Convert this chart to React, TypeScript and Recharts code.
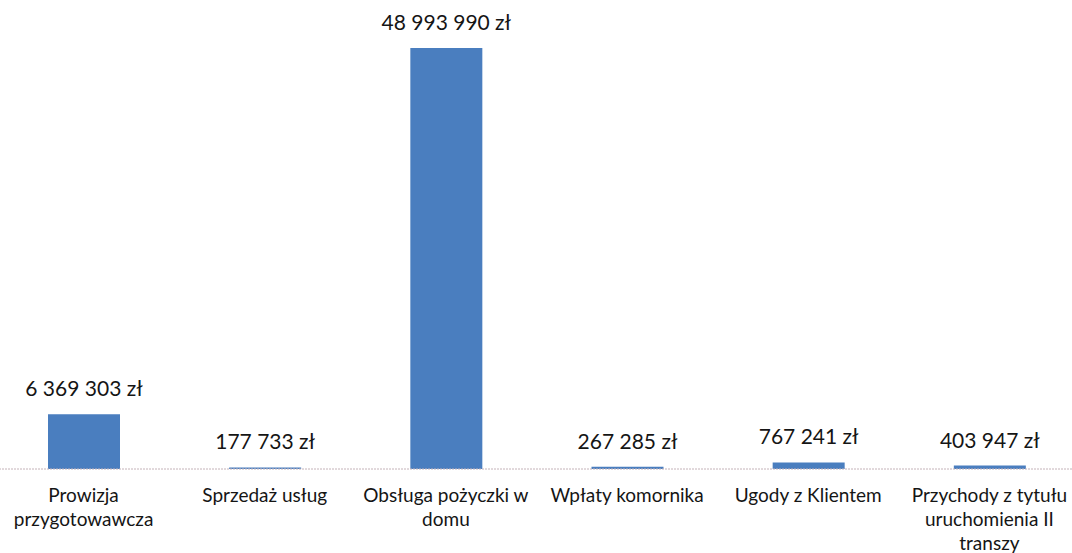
import { BarChart, Bar, XAxis, YAxis, LabelList } from "recharts";

const categories = [
  "Prowizja przygotowawcza",
  "Sprzedaż usług",
  "Obsługa pożyczki w domu",
  "Wpłaty komornika",
  "Ugody z Klientem",
  "Przychody z tytułu uruchomienia II transzy",
];

const amounts = [6369303, 177733, 48993990, 267285, 767241, 403947];

const data = categories.map((name, i) => ({ name, value: amounts[i] }));

const FONT = "Lato, 'Noto Sans', sans-serif";

const fmt = (v: number) =>
  String(v).replace(/\B(?=(\d{3})+(?!\d))/g, " ") + " zł";

// word-wrap category names the way excel did
const wrapLines: Record<string, string[]> = {
  "Prowizja przygotowawcza": ["Prowizja", "przygotowawcza"],
  "Obsługa pożyczki w domu": ["Obsługa pożyczki w", "domu"],
  "Przychody z tytułu uruchomienia II transzy": [
    "Przychody z tytułu",
    "uruchomienia II",
    "transzy",
  ],
};

const CategoryTick = ({ x, y, payload }: any) => {
  const lines = wrapLines[payload.value] || [payload.value];
  return (
    <text x={x} y={y} textAnchor="middle" fill="#151515" fontSize={19} fontFamily={FONT}>
      {lines.map((l, i) => (
        <tspan key={i} x={x} y={y + 25 + i * 24}>
          {l}
        </tspan>
      ))}
    </text>
  );
};

const ValueLabel = ({ x, y, width, value }: any) => (
  <text
    x={x + width / 2}
    y={y - 18}
    textAnchor="middle"
    fill="#151515"
    fontSize={21}
    fontFamily={FONT}
  >
    {fmt(Number(value))}
  </text>
);

export default function App() {
  return (
    <div style={{ position: "absolute", left: -7, top: 0, width: 1087, height: 553, background: "#fff" }}>
      <BarChart
        width={1087}
        height={553}
        data={data}
        margin={{ top: 48, right: 0, left: 0, bottom: 0 }}
        barCategoryGap={0}
      >
        <XAxis
          dataKey="name"
          height={84}
          interval={0}
          tickLine={false}
          axisLine={{ stroke: "#c4b2b8", strokeDasharray: "2 1" }}
          tick={<CategoryTick />}
        />
        <YAxis hide domain={[0, 48993990]} />
        <Bar dataKey="value" fill="#4a7ebf" barSize={72} isAnimationActive={false}>
          <LabelList dataKey="value" content={<ValueLabel />} />
        </Bar>
      </BarChart>
    </div>
  );
}
